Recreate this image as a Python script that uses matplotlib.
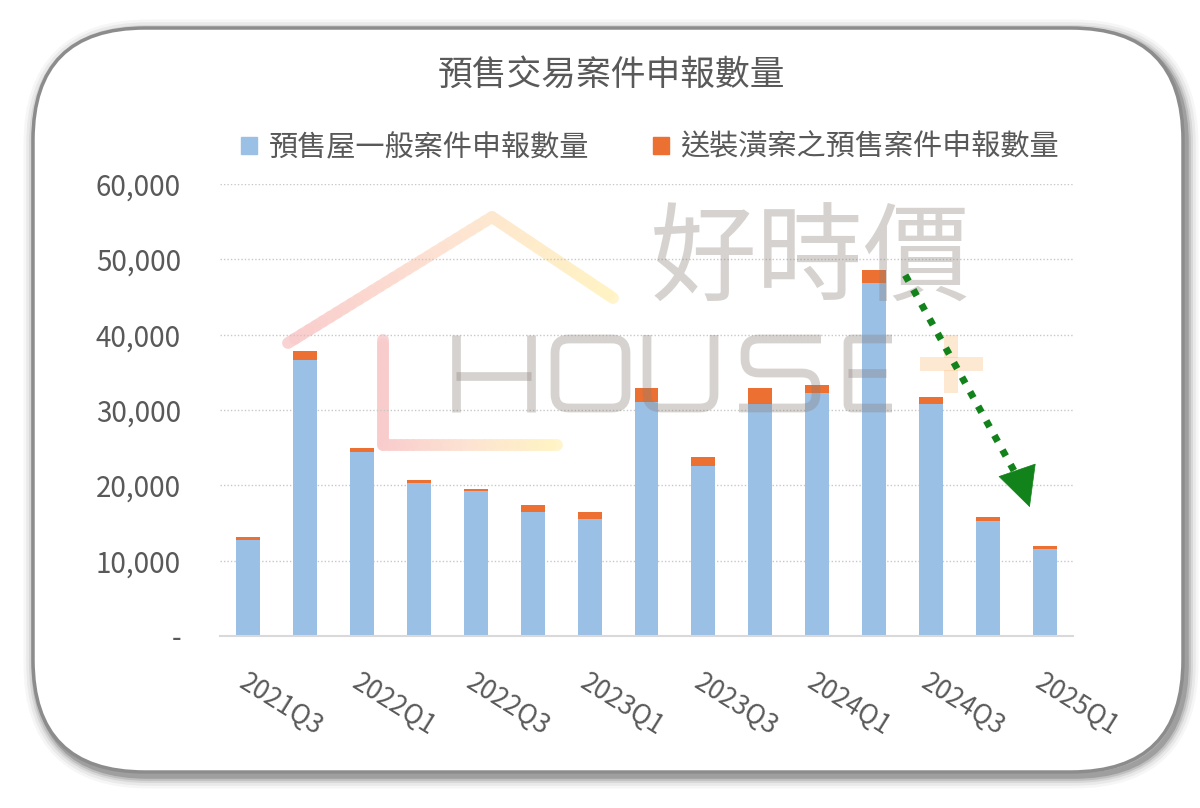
import numpy as np
import matplotlib
matplotlib.use("Agg")
import matplotlib.pyplot as plt
from matplotlib.patches import FancyBboxPatch, Patch, PathPatch
from matplotlib.path import Path
from matplotlib.transforms import Affine2D
from matplotlib.collections import LineCollection
from matplotlib.colors import LinearSegmentedColormap

plt.rcParams['font.family'] = ['Noto Sans CJK TC', 'DejaVu Sans']

# ---------------- data ----------------
quarters = ['2021Q3', '2021Q4', '2022Q1', '2022Q2', '2022Q3', '2022Q4', '2023Q1', '2023Q2',
            '2023Q3', '2023Q4', '2024Q1', '2024Q2', '2024Q3', '2024Q4', '2025Q1']
general_cases = [12750, 36650, 24480, 20280, 19260, 16470, 15540, 31040,
                 22620, 30810, 32230, 46840, 30770, 15310, 11550]
renovated_cases = [400, 1200, 450, 440, 260, 970, 930, 1850,
                   1150, 2080, 1100, 1730, 970, 450, 400]
series_names = ['預售屋一般案件申報數量', '送裝潢案之預售案件申報數量']
title_text = '預售交易案件申報數量'
y_ticks = [0, 10000, 20000, 30000, 40000, 50000, 60000]
trend_start = (11.55, 47900)   # trend arrow (category index, value)
trend_end = (13.74, 17100)

# ---------------- styling ----------------
W, H = 1200, 808
BLUE = '#9BC0E6'
ORANGE = '#EB7031'
TXT = '#595959'
GREEN = '#12821A'

fig = plt.figure(figsize=(W / 100, H / 100), dpi=100)
fig.patch.set_facecolor('white')

# pixel transform (x right, y down) in figure space
px = Affine2D().scale(1 / W, -1 / H).translate(0, 1) + fig.transFigure

# background frame with shadow
bg = fig.add_axes([0, 0, 1, 1], zorder=0)
bg.set_xlim(0, W)
bg.set_ylim(H, 0)
bg.axis('off')
x0, y0, x1, y1 = 33, 28, 1183, 772
for lw, a in [(18, 0.05), (14, 0.08), (10, 0.12), (7, 0.18), (4, 0.3)]:
    bg.add_patch(FancyBboxPatch((x0 + 3, y0 + 4), x1 - x0, y1 - y0,
                                boxstyle='round,pad=0,rounding_size=112',
                                fc='none', ec='#555555', lw=lw, alpha=a))
bg.add_patch(FancyBboxPatch((x0, y0), x1 - x0, y1 - y0,
                            boxstyle='round,pad=0,rounding_size=112',
                            fc='white', ec='#8c8c8c', lw=2.5))

# main axes
ax = fig.add_axes([220 / W, 1 - 636 / H, 853 / W, (636 - 184) / H], zorder=2)
ax.set_facecolor('none')
x = np.arange(len(quarters))
ax.bar(x, general_cases, width=0.42, color=BLUE, zorder=2, label=series_names[0])
ax.bar(x, renovated_cases, width=0.42, bottom=general_cases, color=ORANGE, zorder=2,
       label=series_names[1])
ax.set_xlim(-0.5, len(quarters) - 0.5)
ax.set_ylim(0, 60000)
ax.set_yticks(y_ticks)
ax.set_yticklabels(['-' if v == 0 else f'{v:,}' for v in y_ticks], fontsize=20, color=TXT)
ax.set_xticks(x[::2])
ax.set_xticklabels(quarters[::2], rotation=-32, ha='left', rotation_mode='anchor',
                   fontsize=19, color=TXT)
ax.tick_params(axis='both', length=0)
ax.tick_params(axis='y', pad=28)
ax.tick_params(axis='x', pad=24)
ax.grid(axis='y', linestyle=(0, (1, 1.5)), color='#c8c8c8', lw=1, zorder=0)
for s in ['top', 'right', 'left']:
    ax.spines[s].set_visible(False)
ax.spines['bottom'].set_color('#d9d9d9')
ax.spines['bottom'].set_linewidth(1.5)

# ---------------- watermark (decoration) ----------------
WM = (0.55, 0.50, 0.48)
WM_A = 0.35
cmap = LinearSegmentedColormap.from_list('wm', ['#f9cccc', '#fde3d2', '#fff3c4'])


def grad_line(pts, lw):
    pts = np.array(pts, float)
    pieces = []
    for a, b in zip(pts[:-1], pts[1:]):
        t = np.linspace(0, 1, 30)[:, None]
        pieces.append(a + (b - a) * t)
    allp = np.vstack(pieces)
    segs = np.stack([allp[:-1], allp[1:]], axis=1)
    cval = np.clip((segs[:, 0, 0] - 285) / 330, 0, 1)
    lc = LineCollection(segs, cmap=cmap, array=cval, lw=lw, alpha=0.85,
                        transform=px, zorder=1, capstyle='round', joinstyle='round')
    lc.set_clip_on(False)
    ax.add_collection(lc)


def rounded_poly(pts, r):
    pts = [np.array(p, float) for p in pts]
    verts, codes = [pts[0]], [Path.MOVETO]
    for i in range(1, len(pts) - 1):
        a, p, b = pts[i - 1], pts[i], pts[i + 1]
        u1 = (a - p) / np.linalg.norm(a - p)
        u2 = (b - p) / np.linalg.norm(b - p)
        verts += [p + u1 * r, p, p + u2 * r]
        codes += [Path.LINETO, Path.CURVE3, Path.CURVE3]
    verts.append(pts[-1])
    codes.append(Path.LINETO)
    return Path(verts, codes)


def stroke(pts, r=0, lw=6.3, color=WM, alpha=WM_A):
    pp = PathPatch(rounded_poly(pts, r), fc='none', ec=color, lw=lw, alpha=alpha,
                   transform=px, zorder=5, capstyle='butt', joinstyle='round')
    pp.set_clip_on(False)
    ax.add_patch(pp)


grad_line([(288, 343), (492, 217), (613, 298)], 8.5)
grad_line([(383, 340), (383, 445), (557, 445)], 8.5)

ax.text(810, 262, '好時價', transform=px, fontsize=77, color=WM, alpha=WM_A,
        ha='center', va='center', zorder=5, clip_on=False)
# H
stroke([(456, 335), (456, 412)])
stroke([(531, 335), (531, 412)])
stroke([(456, 376), (531, 376)])
# O
o = FancyBboxPatch((555, 339), 71, 69, boxstyle='round,pad=0,rounding_size=14',
                   fc='none', ec=WM, lw=6.3, alpha=WM_A, transform=px, zorder=5)
o.set_clip_on(False)
ax.add_patch(o)
# U
stroke([(647, 335), (647, 408), (714, 408), (714, 335)], r=14)
# S
stroke([(821, 339), (745, 339), (745, 373), (816, 373), (816, 408), (739, 408)], r=14)
# E
stroke([(892, 339), (848, 339), (848, 408), (892, 408)], r=4)
stroke([(848, 373), (886, 373)])
# +
stroke([(920, 364), (983, 364)], lw=10, color='#fbb468', alpha=0.3)
stroke([(951, 335), (951, 358)], lw=10, color='#fbb468', alpha=0.3)
stroke([(951, 370), (951, 393)], lw=10, color='#fbb468', alpha=0.3)

# trend arrow
ax.plot([trend_start[0], trend_end[0] - 0.12], [trend_start[1], trend_end[1] + 2700],
        color=GREEN, lw=5, linestyle=(0, (1, 1.4)), zorder=7, solid_capstyle='butt')
ax.annotate('', xy=trend_end, xytext=(trend_end[0] - 0.15, trend_end[1] + 3300),
            arrowprops=dict(arrowstyle='-|>,head_length=1.1,head_width=0.55', color=GREEN,
                            lw=0.5, mutation_scale=25, shrinkA=0, shrinkB=0), zorder=7)

# title and legend
fig.text(611 / W, 1 - 75 / H, title_text, ha='center', va='center', fontsize=25, color=TXT)
handles = [Patch(color=BLUE), Patch(color=ORANGE)]
leg = fig.legend(handles, series_names, loc='center', bbox_to_anchor=(650 / W, 1 - 148 / H),
                 ncol=2, frameon=False, handlelength=0.55, handleheight=0.55,
                 handletextpad=0.38, columnspacing=2.2, fontsize=21)
for t in leg.get_texts():
    t.set_color(TXT)

fig.savefig('out.png', dpi=100, facecolor='white')
